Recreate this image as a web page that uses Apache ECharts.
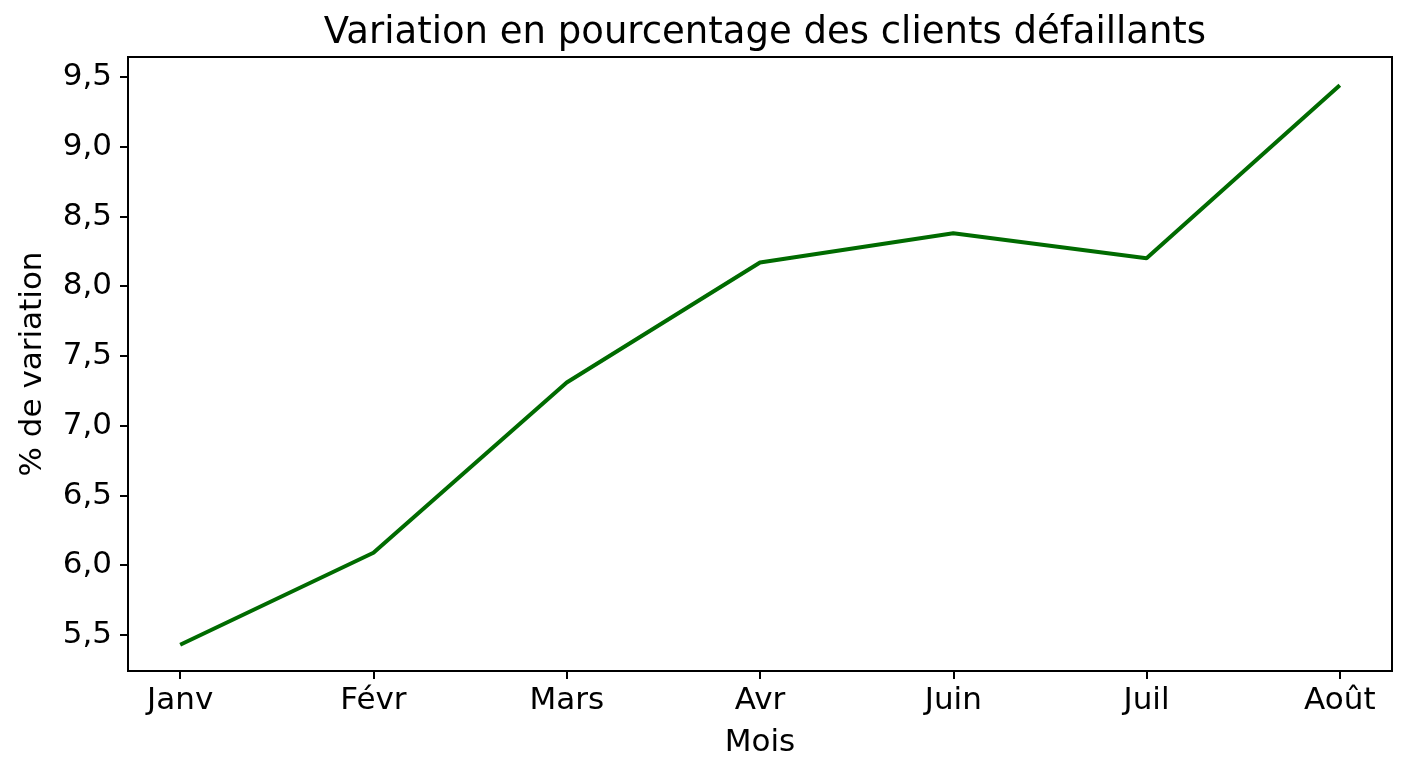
<!DOCTYPE html>
<html>
<head>
<meta charset="utf-8">
<script src="https://cdn.jsdelivr.net/npm/echarts@6.0.0/dist/echarts.min.js"></script>
<style>
  html, body { margin: 0; padding: 0; background: #fff; }
  #chart { width: 1408px; height: 768px; }
</style>
</head>
<body>
<div id="chart"></div>
<script>
// données
const mois = ['Janv', 'Févr', 'Mars', 'Avr', 'Juin', 'Juil', 'Août'];
const variation = [5.43, 6.09, 7.31, 8.17, 8.38, 8.20, 9.44];
const yTicks = [5.5, 6.0, 6.5, 7.0, 7.5, 8.0, 8.5, 9.0, 9.5];
const xTicks = [0, 1, 2, 3, 4, 5, 6];

const chart = echarts.init(document.getElementById('chart'));
const font = 'DejaVu Sans';

const option = {
    backgroundColor: '#fff',
    animation: false,
    title: {
        text: 'Variation en pourcentage des clients défaillants',
        left: 760,
        textAlign: 'center',
        top: 10,
        textStyle: { fontFamily: font, fontSize: 37, fontWeight: 'normal', color: '#000' }
    },
    grid: {
        left: 128, right: 16, top: 57, bottom: 97,
        show: true, borderColor: '#000', borderWidth: 2
    },
    xAxis: {
        type: 'value',
        min: -0.27,
        max: 6.27,
        name: 'Mois',
        nameLocation: 'middle',
        nameGap: 56,
        nameTextStyle: { fontFamily: font, fontSize: 31, color: '#000' },
        axisLine: { show: true, onZero: false, lineStyle: { color: '#000', width: 2 } },
        axisTick: { show: true, length: 8, customValues: xTicks, lineStyle: { color: '#000', width: 2 } },
        axisLabel: {
            customValues: xTicks,
            margin: 14,
            fontFamily: font, fontSize: 31, color: '#000',
            formatter: v => mois[Math.round(v)]
        },
        splitLine: { show: false }
    },
    yAxis: {
        type: 'value',
        min: 5.242,
        max: 9.643,
        name: '% de variation',
        nameLocation: 'middle',
        nameGap: 80,
        nameTextStyle: { fontFamily: font, fontSize: 31, color: '#000' },
        axisLine: { show: true, onZero: false, lineStyle: { color: '#000', width: 2 } },
        axisTick: { show: true, length: 8, customValues: yTicks, lineStyle: { color: '#000', width: 2 } },
        axisLabel: {
            customValues: yTicks,
            margin: 16,
            fontFamily: font, fontSize: 31, color: '#000',
            formatter: v => v.toFixed(1).replace('.', ',')
        },
        splitLine: { show: false }
    },
    series: [{
        type: 'line',
        data: variation.map((v, i) => [i, v]),
        showSymbol: false,
        lineStyle: { color: '#006b00', width: 4 },
        itemStyle: { color: '#006b00' }
    }]
};

chart.setOption(option);
</script>
</body>
</html>
